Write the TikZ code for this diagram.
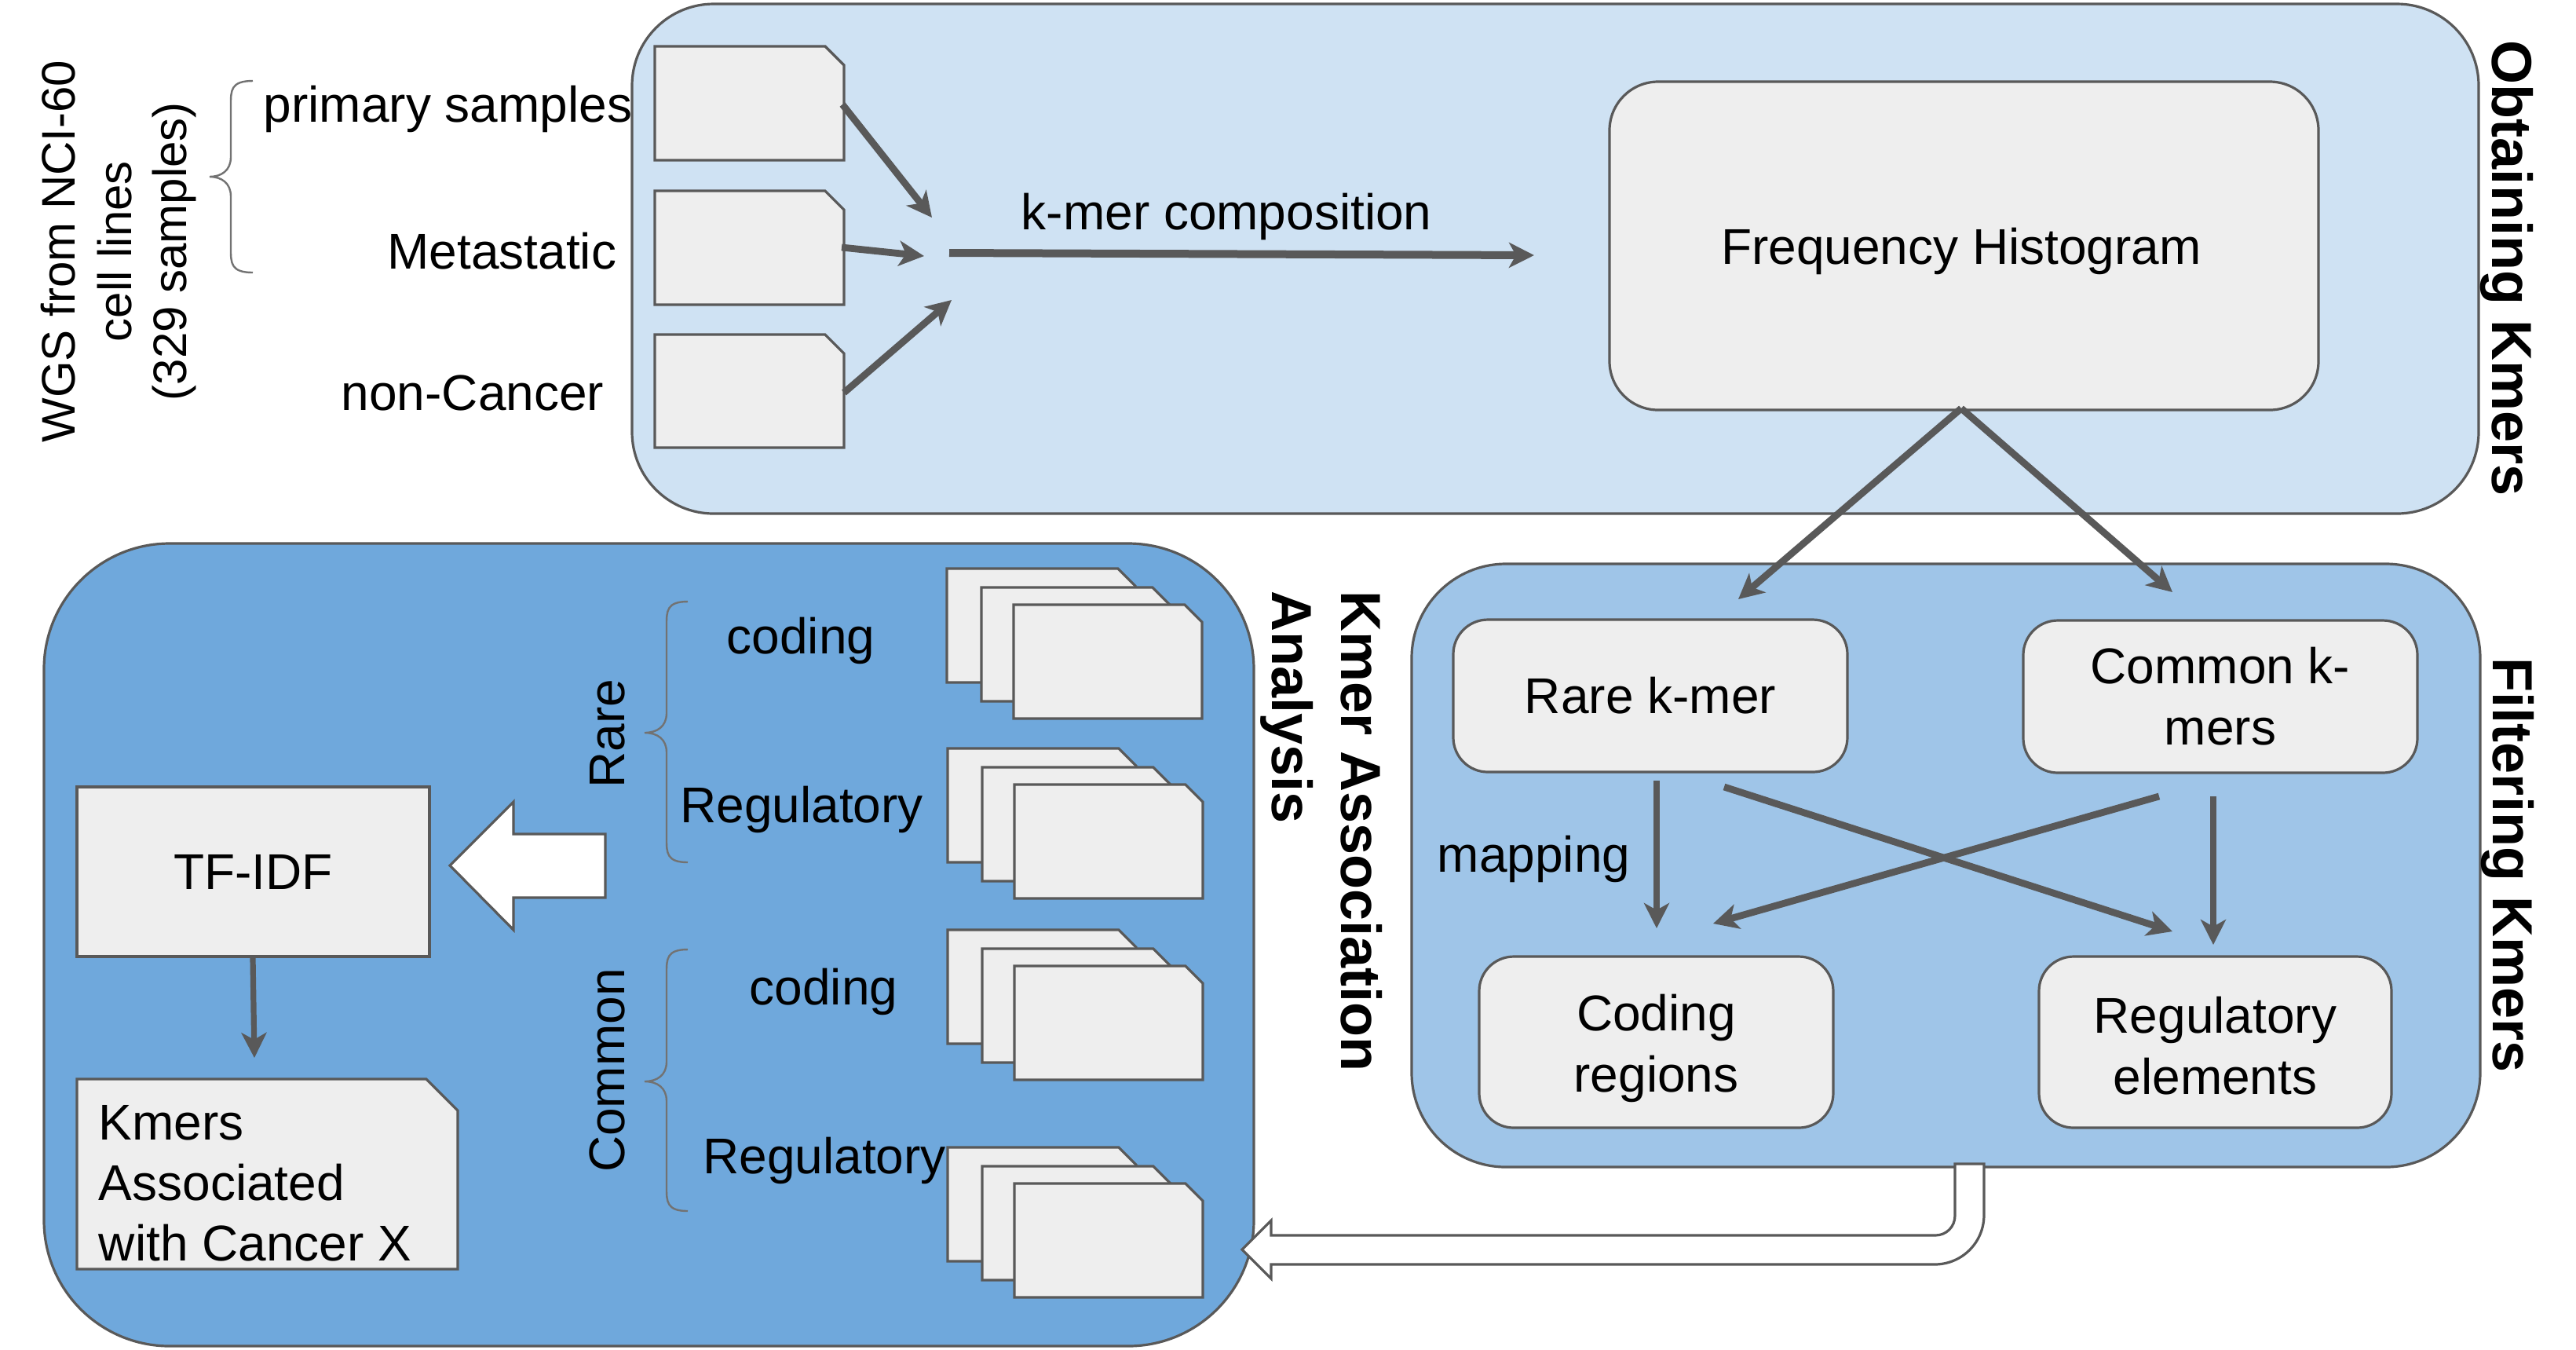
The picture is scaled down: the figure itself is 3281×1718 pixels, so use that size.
\documentclass[tikz,border=0pt]{standalone}
\usepackage{fontspec}
\setmainfont{Liberation Sans}
\usetikzlibrary{arrows.meta}
\definecolor{bordergray}{HTML}{595959}
\definecolor{boxA}{HTML}{CFE2F3}
\definecolor{boxB}{HTML}{9FC5E8}
\definecolor{boxC}{HTML}{6FA8DC}
\definecolor{nodegray}{HTML}{EEEEEE}
\newcommand{\kdoc}[5]{\filldraw[docbox] (#1,#2) -- ({#3-#5},#2) -- (#3,{#2+#5}) -- (#3,#4) -- (#1,#4) -- cycle;}
\newcommand{\kstack}[2]{\kdoc{#1}{#2}{#1+240}{#2+145}{22}\kdoc{#1+44}{#2+24}{#1+284}{#2+169}{22}\kdoc{#1+85}{#2+46}{#1+325}{#2+191}{22}}
\newcommand{\kbrace}[6]{\draw[bracestyle] (#3,#4) .. controls (#2,#4) and (#2,#4+12) .. (#2,#4+30) -- (#2,#5-25) .. controls (#2,#5-8) and (#2-12,#5) .. (#1,#5) .. controls (#2-12,#5) and (#2,#5+8) .. (#2,#5+25) -- (#2,#6-30) .. controls (#2,#6-12) and (#2,#6) .. (#3,#6);}
\tikzset{
  docbox/.style={draw=bordergray, fill=nodegray, line width=0.8pt, line join=miter},
  bracestyle/.style={draw=bordergray!85, line width=0.6pt},
  container/.style={draw=bordergray, line width=0.8pt, rectangle, inner sep=0pt},
  inbox/.style={draw=bordergray, fill=nodegray, line width=0.8pt, rectangle, rounded corners=11pt, align=center, inner sep=0pt, font=\fontsize{16pt}{19.5pt}\selectfont},
  lbl/.style={inner sep=0pt, font=\fontsize{16pt}{19.5pt}\selectfont},
  boxtext/.style={inner sep=0pt, align=center, font=\fontsize{16pt}{19.5pt}\selectfont},
  wgs/.style={inner sep=0pt, font=\fontsize{15pt}{18pt}\selectfont, rotate=90, anchor=base},
  title/.style={inner sep=0pt, font=\bfseries\fontsize{18pt}{21.6pt}\selectfont, rotate=-90},
  arr/.style={draw=bordergray, line width=2.2pt, -{Stealth[length=8pt,width=8pt,inset=2.2pt]}},
  blockarrow/.style={draw=bordergray, fill=white, line width=0.8pt, line join=miter},
}
\begin{document}
\begin{tikzpicture}[x=0.25pt, y=-0.25pt]
\useasboundingbox (0,0) rectangle (3281,1718);
\fill[white] (0,0) rectangle (3281,1718);

% containers
\node[container, fill=boxA, rounded corners=26pt, minimum width=588pt, minimum height=162.25pt] (obtain) at (1981,329.5) {};
\node[container, fill=boxB, rounded corners=30pt, minimum width=340.25pt, minimum height=192pt] (filter) at (2478.5,1102) {};
\node[container, fill=boxC, rounded corners=40pt, minimum width=385.25pt, minimum height=255.5pt] (assoc) at (826.5,1203) {};

% titles
\node[title, anchor=base] (tObtain) at (3174,342) {Obtaining Kmers};
\node[title, anchor=base] (tFilter) at (3175,1102) {Filtering Kmers};
\node[title, anchor=base west] (tAssoc1) at (1708,752) {Kmer Association};
\node[title, anchor=base west] (tAssoc2) at (1620,752) {Analysis};

% WGS label and brace
\node[wgs] (wgs1) at (95,320) {WGS from NCI-60};
\node[wgs] (wgs2) at (167,320) {cell lines};
\node[wgs] (wgs3) at (238,320) {(329 samples)};
\kbrace{267}{294}{322}{103}{225}{347}

\node[lbl, anchor=base east] (lPrim) at (806,155) {primary samples};
\node[lbl, anchor=base east] (lMeta) at (786,342) {Metastatic};
\node[lbl, anchor=base east] (lNon) at (770,522) {non-Cancer};

% input docs
\kdoc{834}{59}{1075}{204}{24}
\kdoc{834}{243}{1075}{388}{24}
\kdoc{834}{426}{1075}{570}{24}

\coordinate (d1o) at (1073,133); \coordinate (d1i) at (1187,277);
\coordinate (d2o) at (1072,315); \coordinate (d2i) at (1177,326);
\coordinate (d3o) at (1075,500); \coordinate (d3i) at (1212,382);
\coordinate (mainA) at (1209,322);
\draw[arr] (d1o) -- (d1i);
\draw[arr] (d2o) -- (d2i);
\draw[arr] (d3o) -- (d3i);

\node[lbl, anchor=base west] (lKmer) at (1300,292) {k-mer composition};

\node[inbox, rounded corners=15.5pt, minimum width=225.75pt, minimum height=104.5pt] (fh) at (2501.5,313) {};
\node[boxtext] (fhText) at (2498,320) {Frequency Histogram};
\coordinate (mainB) at (1954,325);
\draw[arr, line width=2.5pt] (mainA) -- (mainB);

% filtering
\node[inbox, minimum width=125.5pt, minimum height=48.5pt] (rare) at (2102,886) {Rare k-mer};
\node[inbox, minimum width=125.5pt, minimum height=48.5pt] (common) at (2828,887) {Common k-\\mers};
\node[inbox, minimum width=112.75pt, minimum height=54.5pt] (coding) at (2109.5,1327) {};
\node[boxtext] (codingText) at (2109.5,1335) {Coding\\regions};
\node[inbox, minimum width=112.25pt, minimum height=54.5pt] (regel) at (2821.5,1327) {};
\node[boxtext] (regelText) at (2821.5,1332) {Regulatory\\elements};

\coordinate (fhB) at (2498,520);
\coordinate (toRare) at (2214,763);
\coordinate (toCommon) at (2767,754);
\draw[arr] (fhB) -- (toRare);
\draw[arr] (fhB) -- (toCommon);

\coordinate (rareS) at (2110,994); \coordinate (codN) at (2110,1182);
\coordinate (comS) at (2819,1014); \coordinate (regN) at (2819,1203);
\coordinate (rareX) at (2196,1002); \coordinate (regX) at (2767,1186);
\coordinate (comX) at (2750,1014); \coordinate (codX) at (2182,1176);
\draw[arr] (rareS) -- (codN);
\draw[arr] (comS) -- (regN);
\draw[arr] (rareX) -- (regX);
\draw[arr] (comX) -- (codX);
\node[lbl, anchor=base west] (lMap) at (1830,1110) {mapping};

% hollow connector from filtering to association
\filldraw[blockarrow] (2527,1482) -- (2527,1547) .. controls (2527,1582) and (2499,1610) .. (2464,1610) -- (1619,1610) -- (1619,1628) -- (1582,1591) -- (1619,1554) -- (1619,1573) -- (2465,1573) .. controls (2479,1573) and (2490,1562) .. (2490,1548) -- (2490,1482) -- cycle;

% association box content
\kstack{1206}{724}
\kstack{1207}{953}
\kstack{1207}{1184}
\kstack{1207}{1461}

\kbrace{821}{849}{876}{766}{933}{1098}
\kbrace{821}{849}{876}{1209}{1377}{1542}
\node[lbl, rotate=90, anchor=base] (lRare) at (795,934) {Rare};
\node[lbl, rotate=90, anchor=base] (lCommon) at (795,1363) {Common};

\node[lbl, anchor=base] (lc1) at (1020,832) {coding};
\node[lbl, anchor=base] (lr1) at (1021,1047) {Regulatory};
\node[lbl, anchor=base] (lc2) at (1049,1279) {coding};
\node[lbl, anchor=base] (lr2) at (1050,1494) {Regulatory};

\filldraw[blockarrow] (573,1102) -- (654,1021) -- (654,1062) -- (771,1062) -- (771,1143) -- (654,1143) -- (654,1184) -- cycle;

\node[inbox, rounded corners=0pt, minimum width=112.25pt, minimum height=54pt] (tfidf) at (322.5,1110) {TF-IDF};
\kdoc{98}{1374}{583}{1616}{40}
\node[lbl, anchor=base west] (kx1) at (125,1451) {Kmers};
\node[lbl, anchor=base west] (kx2) at (125,1528) {Associated};
\node[lbl, anchor=base west] (kx3) at (125,1605) {with Cancer X};
\coordinate (tfS) at (322,1219); \coordinate (kxN) at (324,1347);
\draw[arr, line width=1.8pt] (tfS) -- (kxN);
\end{tikzpicture}
\end{document}
